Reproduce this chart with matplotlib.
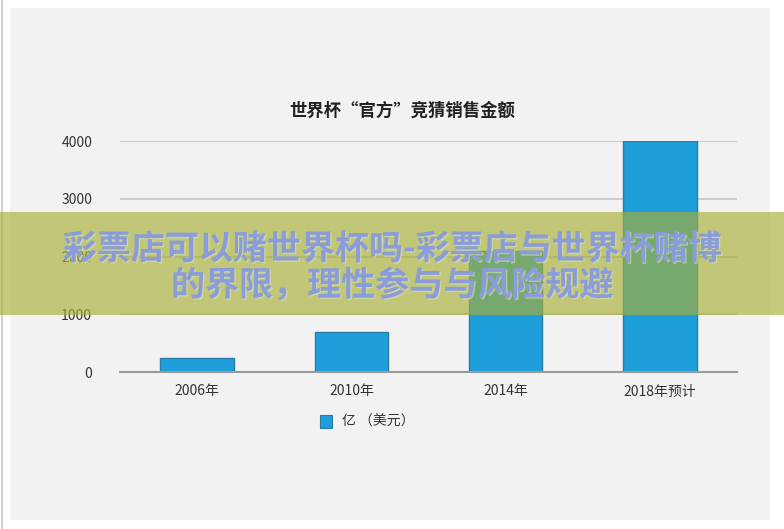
import matplotlib
matplotlib.use("Agg")
import matplotlib.pyplot as plt
from matplotlib.patches import Rectangle
import matplotlib.patheffects as pe

plt.rcParams['font.family'] = ['Noto Sans CJK SC', 'DejaVu Sans']

# 数据
categories = ['2006年', '2010年', '2014年', '2018年预计']
sales = [250, 690, 2100, 4000]
yticks = [0, 1000, 2000, 3000, 4000]
title = '世界杯“官方”竞猜销售金额'
legend_label = '亿 （美元）'
banner_lines = '彩票店可以赌世界杯吗-彩票店与世界杯赌博\n的界限，理性参与与风险规避'

W, H = 784, 529
fig = plt.figure(figsize=(W / 100, H / 100), dpi=100)
fig.patch.set_facecolor('white')

# 灰色背景面板
fig.patches.append(Rectangle((10 / W, 9 / H), 760 / W, 512 / H,
                             transform=fig.transFigure, facecolor='#f2f2f2',
                             edgecolor='none', zorder=-2))
fig.patches.append(Rectangle((1 / W, 0), 2 / W, 1,
                             transform=fig.transFigure, facecolor='#cfcfcf',
                             edgecolor='none', zorder=-2))

ax = fig.add_axes([120 / W, 1 - 372 / H, 617 / W, 231 / H])
ax.set_zorder(1)
ax.set_facecolor('none')

x = range(len(categories))
ax.bar(x, sales, width=0.475, color='#1f9edc', edgecolor='#2d7ba3',
       linewidth=1.0, zorder=3)

ax.set_xlim(-0.5, 3.5)
ax.set_ylim(0, 4000)
ax.set_yticks(yticks)
ax.set_yticklabels([str(v) for v in yticks])
ax.set_xticks(list(x))
ax.set_xticklabels(categories)
ax.tick_params(axis='y', length=0, pad=20, labelsize=10, labelcolor='#333333')
ax.tick_params(axis='x', length=0, pad=9, labelsize=10, labelcolor='#333333')
ax.grid(axis='y', color='#cccccc', linewidth=1.5, zorder=1)
ax.set_axisbelow(True)
for s in ['top', 'right', 'left']:
    ax.spines[s].set_visible(False)
ax.spines['bottom'].set_color('#9a9a9a')
ax.spines['bottom'].set_linewidth(1.5)
ax.spines['bottom'].set_zorder(4)

fig.text(402 / W, 1 - 111 / H, title, ha='center', va='center',
         fontsize=12.5, fontweight='bold', color='#222222')

# 图例
fig.patches.append(Rectangle((320 / W, 1 - 428 / H), 12 / W, 13 / H,
                             transform=fig.transFigure, facecolor='#1f9edc',
                             edgecolor='#2d7ba3', linewidth=0.8, zorder=3))
fig.text(342 / W, 1 - 422 / H, legend_label, ha='left', va='center',
         fontsize=10, color='#333333')

# 横幅
fig.patches.append(Rectangle((0, 1 - 315 / H), 1, 103 / H,
                             transform=fig.transFigure, facecolor='#a8b035',
                             alpha=0.65, edgecolor='none', zorder=5))
fig.text(392 / W, 1 - 267 / H, banner_lines, ha='center', va='center',
         fontsize=24.5, fontweight='bold', color='#8a9dd8', linespacing=1.05,
         zorder=6,
         path_effects=[pe.withSimplePatchShadow(offset=(1, -1),
                                                shadow_rgbFace='#d8dcc0',
                                                alpha=0.6)])

fig.savefig('out.png', dpi=100)
